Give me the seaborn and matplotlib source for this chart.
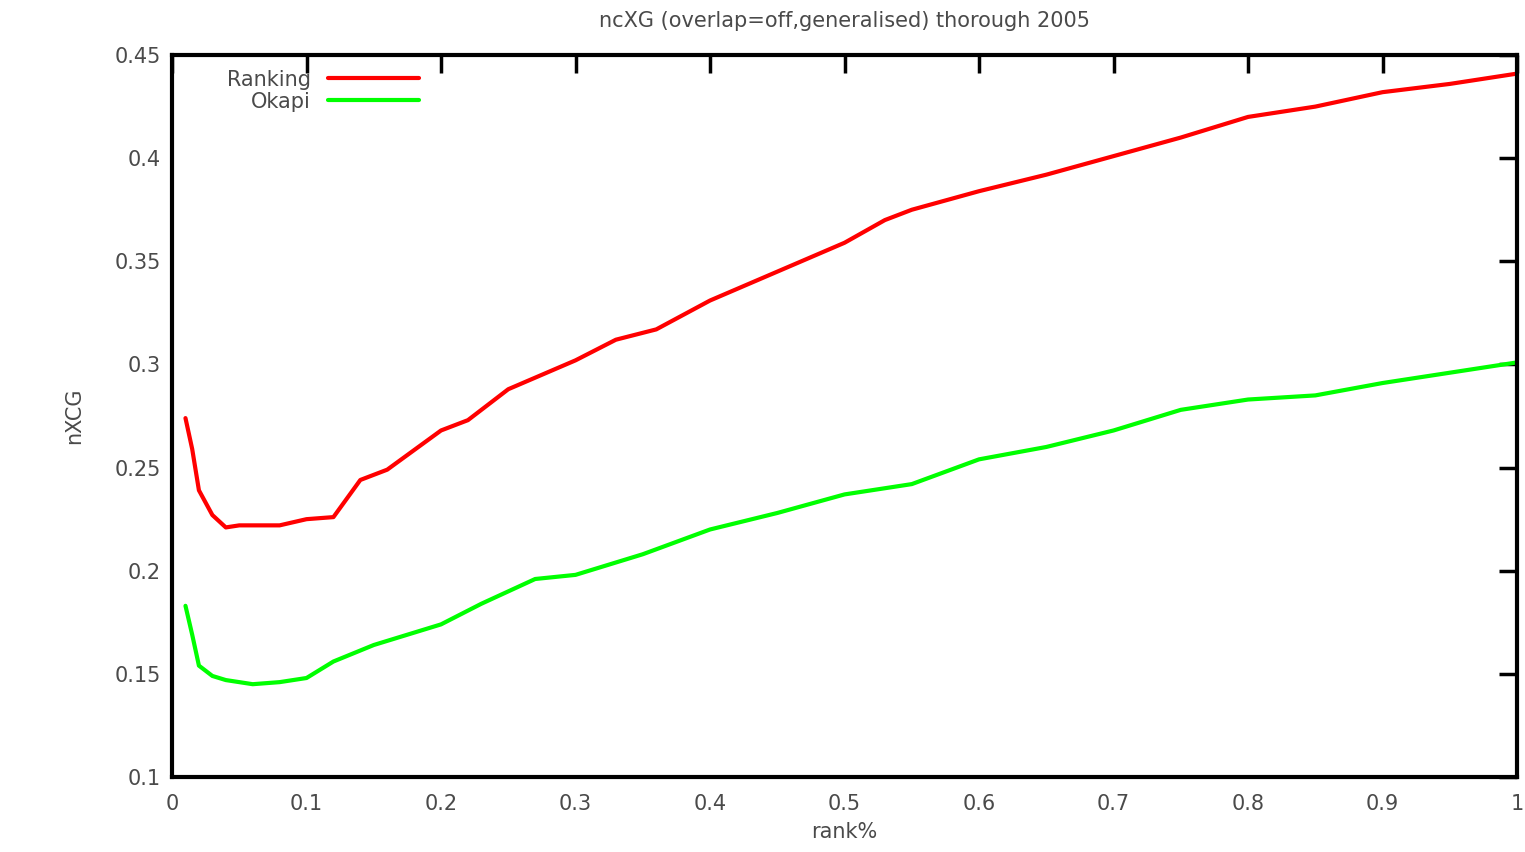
import numpy as np
import pandas as pd
import matplotlib
matplotlib.use("Agg")
import matplotlib.pyplot as plt
import seaborn as sns

rank_x = [0.01, 0.015, 0.02, 0.03, 0.04, 0.05, 0.08, 0.1, 0.12, 0.14, 0.16, 0.2, 0.22, 0.25,
          0.3, 0.33, 0.36, 0.4, 0.45, 0.5, 0.53, 0.55, 0.6, 0.65, 0.7, 0.75, 0.8, 0.85,
          0.9, 0.95, 1.0]
ranking = [0.274, 0.259, 0.239, 0.227, 0.221, 0.222, 0.222, 0.225, 0.226, 0.244, 0.249, 0.268,
           0.273, 0.288, 0.302, 0.312, 0.317, 0.331, 0.345, 0.359, 0.370, 0.375, 0.384,
           0.392, 0.401, 0.410, 0.420, 0.425, 0.432, 0.436, 0.441]

okapi_x = [0.01, 0.015, 0.02, 0.03, 0.04, 0.06, 0.08, 0.1, 0.12, 0.15, 0.17, 0.2, 0.23, 0.27,
           0.3, 0.35, 0.4, 0.45, 0.5, 0.55, 0.6, 0.65, 0.7, 0.75, 0.8, 0.85, 0.9, 0.95, 1.0]
okapi = [0.183, 0.169, 0.154, 0.149, 0.147, 0.145, 0.146, 0.148, 0.156, 0.164, 0.168, 0.174,
         0.184, 0.196, 0.198, 0.208, 0.220, 0.228, 0.237, 0.242, 0.254, 0.260, 0.268, 0.278,
         0.283, 0.285, 0.291, 0.296, 0.301]

x_ticks = [0, 0.1, 0.2, 0.3, 0.4, 0.5, 0.6, 0.7, 0.8, 0.9, 1]
x_ticklabels = ["0", "0.1", "0.2", "0.3", "0.4", "0.5", "0.6", "0.7", "0.8", "0.9", "1"]
y_ticks = [0.1, 0.15, 0.2, 0.25, 0.3, 0.35, 0.4, 0.45]
y_ticklabels = ["0.1", "0.15", "0.2", "0.25", "0.3", "0.35", "0.4", "0.45"]

df = pd.concat([
    pd.DataFrame({"rank%": rank_x, "nXCG": ranking, "run": "Ranking"}),
    pd.DataFrame({"rank%": okapi_x, "nXCG": okapi, "run": "Okapi"}),
])

sns.set_style("white")
plt.rcParams["font.family"] = ["DejaVu Sans"]
txt = "#4a4a4a"

fig = plt.figure(figsize=(15.25, 8.52), dpi=100)
ax = fig.add_axes([0.1128, 0.088, 0.882, 0.8474])
sns.lineplot(data=df, x="rank%", y="nXCG", hue="run",
             palette={"Ranking": "#ff0000", "Okapi": "#00ff00"},
             linewidth=3, ax=ax, sort=False, estimator=None)

ax.set_xlim(0, 1)
ax.set_ylim(0.1, 0.45)
ax.set_xticks(x_ticks)
ax.set_xticklabels(x_ticklabels)
ax.set_yticks(y_ticks)
ax.set_yticklabels(y_ticklabels)
ax.tick_params(direction="in", length=13, width=2.5, top=True, right=True,
               colors="black", labelcolor=txt, labelsize=15)
ax.tick_params(axis="x", pad=12)
ax.tick_params(axis="y", pad=8)
for s in ax.spines.values():
    s.set_visible(True)
    s.set_color("black")
    s.set_linewidth(3)

ax.set_xlabel("rank%", fontsize=15, color=txt, labelpad=6)
ax.set_ylabel("nXCG", fontsize=15, color=txt, labelpad=22)
ax.set_title("ncXG (overlap=off,generalised) thorough 2005", fontsize=15, color=txt, pad=20)

leg = ax.legend(loc="upper left", bbox_to_anchor=(0.03, 1.0), frameon=False,
                markerfirst=False, fontsize=15, handlelength=4.4, labelspacing=0.1,
                handletextpad=0.8, borderaxespad=0.3)
for t in leg.get_texts():
    t.set_color(txt)
    t.set_ha("right")
for l in leg.get_lines():
    l.set_linewidth(3)

fig.savefig("out.png", dpi=100)
